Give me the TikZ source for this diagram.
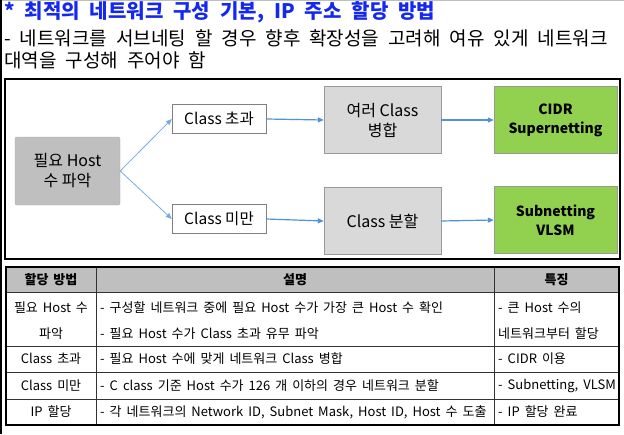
\documentclass[tikz,border=0pt]{standalone}
\usepackage{fontspec}
\setmainfont{Noto Sans CJK KR}
\newfontfamily\headfont{Noto Sans CJK KR}
\newfontfamily\tabfont{Noto Sans CJK KR}
\usetikzlibrary{arrows.meta, positioning}
\definecolor{titleblue}{RGB}{20,40,240}
\definecolor{forkblue}{RGB}{120,170,225}
\definecolor{linkblue}{RGB}{80,145,215}
\definecolor{needgray}{RGB}{191,191,191}
\definecolor{stepgray}{RGB}{217,217,217}
\definecolor{resultgreen}{RGB}{146,208,80}
\newcommand\gapwide[1]{\spaceskip=#1\relax}

\begin{document}
\begin{tikzpicture}[
    x=1pt, y=-1pt,
    need/.style={rectangle, rounded corners=2pt, draw=needgray!90!black,
                 fill=needgray, minimum width=105pt, minimum height=68pt,
                 align=center, inner sep=0pt, font=\fontsize{16}{20}\selectfont},
    cond/.style={rectangle, draw=gray, fill=white, minimum width=94pt,
                 minimum height=29pt, inner sep=0pt, font=\fontsize{15.5}{18}\selectfont},
    work/.style={rectangle, draw=gray!80, fill=stepgray, minimum width=117pt,
                 minimum height=67pt, align=center, inner sep=0pt,
                 font=\fontsize{16}{20}\selectfont},
    result/.style={rectangle, draw=gray!80, fill=resultgreen, minimum width=123pt,
                   minimum height=67pt, align=center, inner sep=0pt,
                   font=\bfseries\fontsize{14}{19}\selectfont},
    fork/.style={-{Triangle[length=6pt, width=5pt]}, color=forkblue, line width=0.8pt},
    arr/.style={-{Triangle[length=6pt, width=5pt]}, color=linkblue, line width=1.2pt},
    head/.style={font=\tabfont\bfseries\fontsize{13}{15}\selectfont\gapwide{5pt}, inner sep=0pt},
    cell/.style={font=\tabfont\fontsize{13}{15}\selectfont\gapwide{5pt}, inner sep=0pt},
    lcell/.style={cell, anchor=west}
]
\useasboundingbox (0,0) rectangle (624,434);

\draw[gray!50, line width=1pt] (0,0.5) -- (624,0.5);
\draw[line width=1.8pt] (1,0) -- (1,434);

\node[anchor=west, inner sep=0pt, text=titleblue,
      font=\headfont\bfseries\fontsize{20}{22}\selectfont] (title) at (4,12)
      {\gapwide{10pt}* 최적의 네트워크 구성 기본, IP 주소 할당 방법};
\node[anchor=west, inner sep=0pt, font=\headfont\fontsize{19}{22}\selectfont] (intro1) at (4,38)
      {\gapwide{9pt}- 네트워크를 서브네팅 할 경우 향후 확장성을 고려해 여유 있게 네트워크};
\node[anchor=west, inner sep=0pt, font=\headfont\fontsize{19}{22}\selectfont] (intro2) at (4,60)
      {\gapwide{9pt}대역을 구성해 주어야 함};

\draw[line width=1.2pt] (5,79) rectangle (620,259);

\node[need]   (need)  at (67.5,171) {필요 Host\\수 파악};
\node[cond]   (over)  at (219,119)  {Class 초과};
\node[cond]   (under) at (219,219)  {Class 미만};
\node[work]   (merge) at (382.5,120) {여러 Class\\병합};
\node[work]   (split) at (382.5,221) {Class 분할};
\node[result] (cidr)  at (555.5,120) {CIDR\\Supernetting};
\node[result] (vlsm)  at (555.5,220) {Subnetting\\VLSM};

\draw[fork] (need.east) -- (over.west);
\draw[fork] (need.east) -- (under.west);
\draw[arr] (over.east) -- (merge.west);
\draw[arr] (merge.east) -- (cidr.west);
\draw[arr] (under.east) -- (split.west);
\draw[arr] (split.east) -- (vlsm.west);

\fill[needgray] (6,267) rectangle (619,292);
\foreach \y in {292,346,372,399}
    \draw[line width=0.8pt, black!80] (6,\y) -- (619,\y);
\foreach \x in {96,494}
    \draw[line width=0.8pt, black!80] (\x,267) -- (\x,425);
\draw[line width=1.4pt] (6,267) rectangle (619,425);

\node[head] (h1) at (51,279.5)  {할당 방법};
\node[head] (h2) at (295,279.5) {설명};
\node[head] (h3) at (556.5,279.5) {특징};

\node[cell]  (r1a) at (51,308) {필요 Host 수};
\node[cell]  (r1b) at (51,334) {파악};
\node[lcell] (r1c) at (100,308) {- 구성할 네트워크 중에 필요 Host 수가 가장 큰 Host 수 확인};
\node[lcell] (r1d) at (100,334) {- 필요 Host 수가 Class 초과 유무 파악};
\node[lcell] (r1e) at (498,308) {- 큰 Host 수의};
\node[lcell] (r1f) at (498,334) {네트워크부터 할당};

\node[cell]  (r2a) at (51,359) {Class 초과};
\node[lcell] (r2b) at (100,359) {- 필요 Host 수에 맞게 네트워크 Class 병합};
\node[lcell] (r2c) at (498,359) {- CIDR 이용};

\node[cell]  (r3a) at (51,385.5) {Class 미만};
\node[lcell] (r3b) at (100,385.5) {- C class 기준 Host 수가 126 개 이하의 경우 네트워크 분할};
\node[lcell] (r3c) at (498,385.5) {- Subnetting, VLSM};

\node[cell]  (r4a) at (51,412) {IP 할당};
\node[lcell] (r4b) at (100,412) {- 각 네트워크의 Network ID, Subnet Mask, Host ID, Host 수 도출};
\node[lcell] (r4c) at (498,412) {- IP 할당 완료};
\end{tikzpicture}
\end{document}
